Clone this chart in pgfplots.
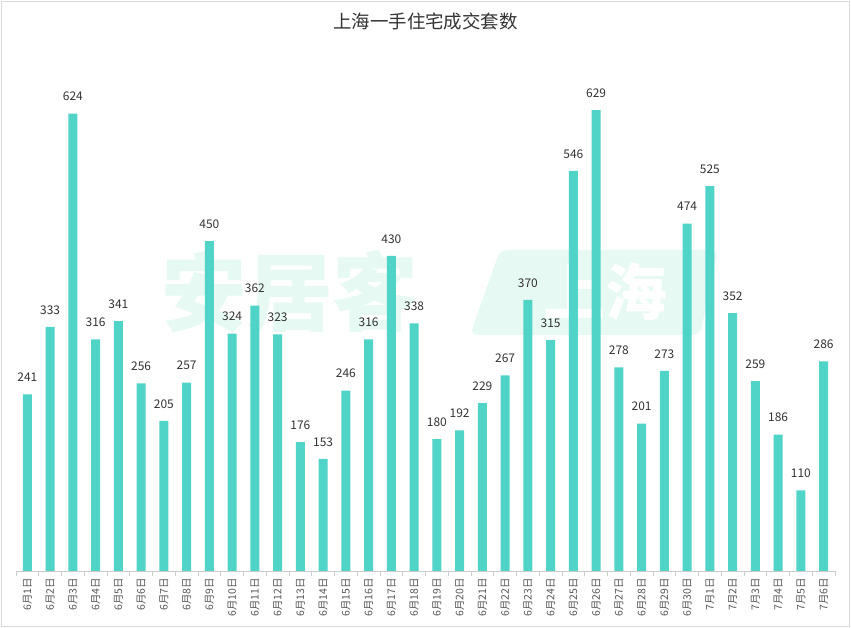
\documentclass[border=0pt]{standalone}
\usepackage{fontspec}
\setmainfont{Noto Sans CJK SC}
\usepackage{pgfplots}
\pgfplotsset{compat=1.18}
\definecolor{barc}{RGB}{80,212,200}
\definecolor{wm}{RGB}{230,249,243}
\definecolor{gridc}{RGB}{218,218,218}
\definecolor{txt}{RGB}{51,51,51}
\definecolor{lbl}{RGB}{85,85,85}
\definecolor{axc}{RGB}{204,204,204}
\begin{document}
\begin{tikzpicture}[x=1bp,y=1bp]
\useasboundingbox (-16,-57) rectangle (835,571);
\fill[wm, rounded corners=8bp] (454,236) -- (684,236) -- (702,321) -- (484,321) -- cycle;
\node[text=wm, font=\fontsize{86}{86}\selectfont\bfseries] at (274,279) {安居客};
\node[text=white, font=\fontsize{62}{62}\selectfont\bfseries] at (589,279) {上海};
\begin{axis}[
  at={(0,0)}, anchor=south west,
  scale only axis, width=819bp, height=513bp,
  xmin=-0.5, xmax=35.5, ymin=0, ymax=700,
  enlargelimits=false, clip=false,
  axis x line*=bottom, axis y line=none,
  x axis line style={draw=axc, line width=0.8bp},
  xtick={0,...,35},
  xticklabels={6月1日,6月2日,6月3日,6月4日,6月5日,6月6日,6月7日,6月8日,6月9日,6月10日,6月11日,6月12日,6月13日,6月14日,6月15日,6月16日,6月17日,6月18日,6月19日,6月20日,6月21日,6月22日,6月23日,6月24日,6月25日,6月26日,6月27日,6月28日,6月29日,6月30日,7月1日,7月2日,7月3日,7月4日,7月5日,7月6日},
  minor xtick={-0.5,0.5,...,35.5},
  tick align=outside,
  major tick length=0pt, minor tick length=5bp,
  minor x tick style={draw=axc, line width=0.8bp},
  major x tick style={draw=none},
  xticklabel style={rotate=90, anchor=east, inner sep=0pt, xshift=-7bp, font=\fontsize{10.5}{10.5}\selectfont, text=lbl},
  ytick={100,200,...,700}, yticklabels={},
  ymajorgrids, y grid style={draw=gridc, dashed, line width=0.7bp},
  title={上海一手住宅成交套数},
  title style={at={(0.5,1)}, anchor=center, yshift=31bp, font=\fontsize{18.5}{18.5}\selectfont, text=txt},
  /pgf/number format/assume math mode=true,
]
\addplot[ybar, fill=barc, draw=none, bar width=9bp,
  nodes near coords,
  every node near coord/.append style={font=\fontsize{12}{12}\selectfont, text=txt, anchor=center, inner sep=0pt, yshift=17bp}]
coordinates {
(0,241) (1,333) (2,624) (3,316) (4,341) (5,256) (6,205) (7,257) (8,450) (9,324)
(10,362) (11,323) (12,176) (13,153) (14,246) (15,316) (16,430) (17,338) (18,180) (19,192)
(20,229) (21,267) (22,370) (23,315) (24,546) (25,629) (26,278) (27,201) (28,273) (29,474)
(30,525) (31,352) (32,259) (33,186) (34,110) (35,286)
};
\end{axis}
\draw[draw=gridc, line width=1bp] (-14.5,-55.5) rectangle (833,569.5);
\end{tikzpicture}
\end{document}
